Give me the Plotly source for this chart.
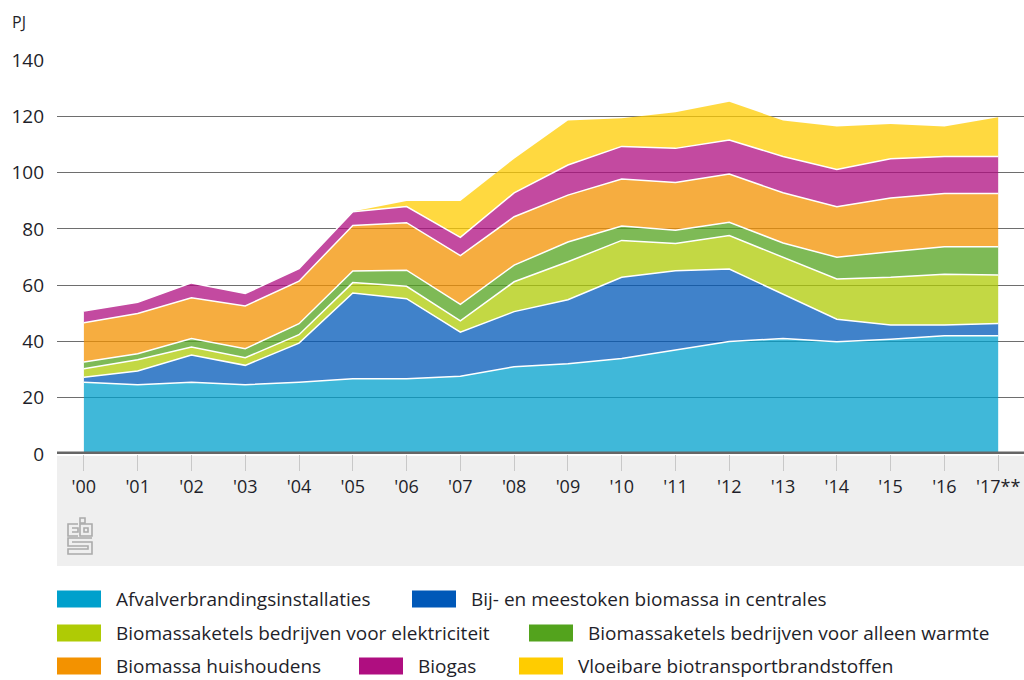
import plotly.graph_objects as go

# ---------------- data ----------------
years = ["'00", "'01", "'02", "'03", "'04", "'05", "'06", "'07", "'08", "'09",
         "'10", "'11", "'12", "'13", "'14", "'15", "'16", "'17**"]

afval = [25.5, 24.6, 25.5, 24.6, 25.5, 26.7, 26.7, 27.6, 31.0, 32.1,
         33.9, 37.0, 40.0, 41.0, 39.9, 40.8, 42.0, 42.0]
bijstook = [1.8, 4.9, 9.7, 6.9, 13.9, 30.5, 28.5, 15.7, 19.6, 22.7,
            28.9, 28.1, 25.7, 15.8, 8.0, 5.0, 3.8, 4.4]
ketel_elek = [3.0, 4.0, 2.8, 2.7, 3.0, 3.7, 4.4, 4.0, 10.6, 13.5,
              13.1, 9.7, 11.9, 13.1, 14.3, 17.0, 18.1, 17.2]
ketel_warmte = [2.4, 2.1, 3.0, 3.2, 3.9, 4.1, 5.7, 5.9, 5.9, 7.0,
                5.1, 4.7, 4.7, 5.1, 7.7, 9.1, 9.7, 10.0]
huishoudens = [13.9, 14.3, 14.5, 15.2, 15.1, 16.2, 16.9, 17.3, 17.2, 16.7,
               16.7, 17.0, 17.2, 17.8, 18.0, 19.1, 19.0, 19.0]
biogas = [4.2, 4.0, 5.3, 4.4, 4.5, 4.9, 5.7, 6.5, 8.5, 10.7,
          11.6, 12.1, 12.1, 12.9, 13.2, 13.9, 13.1, 13.1]
vloeibaar = [0.0, 0.0, 0.0, 0.0, 0.0, 0.1, 2.0, 12.9, 12.1, 15.8,
             10.0, 12.8, 13.6, 12.8, 15.3, 12.4, 10.7, 14.0]

series_names = [
    "Afvalverbrandingsinstallaties",
    "Bij- en meestoken biomassa in centrales",
    "Biomassaketels bedrijven voor elektriciteit",
    "Biomassaketels bedrijven voor alleen warmte",
    "Biomassa huishoudens",
    "Biogas",
    "Vloeibare biotransportbrandstoffen",
]
series_values = [afval, bijstook, ketel_elek, ketel_warmte, huishoudens, biogas, vloeibaar]
series_colors = ["#00A0CC", "#0058B8", "#AFCB05", "#53A31D", "#F39200", "#AF0E80", "#FFCC00"]

ytick_vals = [0, 20, 40, 60, 80, 100, 120, 140]

# ---------------- layout geometry ----------------
W, H = 1024, 680
L, R, T, B = 57, 0, 60, 226
PW, PH = W - L - R, H - T - B
FONT = "Open Sans, Roboto, sans-serif"
TXT = "#1f1f2a"


def rgba(hexc, a):
    hexc = hexc.lstrip("#")
    r, g, b = int(hexc[0:2], 16), int(hexc[2:4], 16), int(hexc[4:6], 16)
    return f"rgba({r},{g},{b},{a})"


def px(x):
    return (x - L) / PW


def py(y):
    return (H - B - y) / PH


fig = go.Figure()
xs = list(range(len(years)))
for i, (name, vals, col) in enumerate(zip(series_names, series_values, series_colors)):
    top = i == len(series_names) - 1
    fig.add_trace(go.Scatter(
        x=xs, y=vals, name=name, mode="lines", stackgroup="one",
        line=dict(color="white", width=0 if top else 1.5, shape="linear"),
        fillcolor=rgba(col, 0.75), showlegend=False,
        hovertemplate="%{y}<extra>" + name + "</extra>",
    ))

shapes = []
annotations = []

# grey band beneath the chart
shapes.append(dict(type="rect", xref="paper", yref="paper",
                   x0=0, x1=1, y0=py(566), y1=py(456),
                   fillcolor="#EFEFEF", line=dict(width=0), layer="below"))
# thick baseline
shapes.append(dict(type="line", xref="paper", yref="y", x0=0, x1=1, y0=0, y1=0,
                   line=dict(color="#666666", width=5), layer="above"))

# cbs logo (simplified)
logo_col = "#ABABAB"
def lpath(points, closed=False):
    d = "M " + " L ".join(f"{px(a):.5f},{py(b):.5f}" for a, b in points)
    if closed:
        d += " Z"
    return dict(type="path", xref="paper", yref="paper", path=d,
                line=dict(color=logo_col, width=1.6), layer="above")

shapes.append(lpath([(80, 518), (85, 518), (85, 523), (80, 523)], closed=True))
shapes.append(lpath([(78, 524), (68, 524), (68, 536), (78, 536)]))
shapes.append(lpath([(72, 528), (78, 528), (78, 532), (72, 532)]))
shapes.append(lpath([(80, 524), (92, 524), (92, 536), (80, 536)], closed=True))
shapes.append(lpath([(84, 528), (88, 528), (88, 532), (84, 532)], closed=True))
shapes.append(lpath([(92, 538), (68, 538), (68, 546), (88, 546), (88, 549), (68, 549), (68, 554), (92, 554), (92, 542), (72, 542)]))

# PJ label
annotations.append(dict(text="PJ", xref="paper", yref="paper", x=px(10), y=py(22),
                        xanchor="left", yanchor="middle", showarrow=False,
                        font=dict(family=FONT, size=16, color=TXT)))

# manual legend
legend_pos = [  # (swatch x, row centre y)
    (57, 599), (412, 599),
    (57, 633), (529, 633),
    (57, 666), (359, 666), (519, 666),
]
sw_w, sw_h = 44, 17
for name, col, (sx, sy) in zip(series_names, series_colors, legend_pos):
    shapes.append(dict(type="rect", xref="paper", yref="paper",
                       x0=px(sx), x1=px(sx + sw_w), y0=py(sy + sw_h / 2), y1=py(sy - sw_h / 2),
                       fillcolor=col, line=dict(width=0)))
    annotations.append(dict(text=name, xref="paper", yref="paper",
                            x=px(sx + sw_w + 13), y=py(sy), xanchor="left", yanchor="middle",
                            showarrow=False, font=dict(family=FONT, size=19, color=TXT)))

fig.update_layout(
    width=W, height=H,
    margin=dict(l=L, r=R, t=T, b=B, pad=0),
    paper_bgcolor="white", plot_bgcolor="white",
    font=dict(family=FONT, size=18, color=TXT),
    xaxis=dict(
        range=[-0.5, 17.48], tickmode="array", tickvals=xs, ticktext=years,
        showgrid=False, zeroline=False, showline=False,
        ticks="outside", ticklen=16, tickcolor="#C8C8C8", tickwidth=1.2,
        tickfont=dict(family=FONT, size=18, color=TXT),
        fixedrange=True,
    ),
    yaxis=dict(
        range=[0, 140], tickmode="array", tickvals=ytick_vals,
        showgrid=True, gridcolor="#6E6E6E", gridwidth=1,
        zeroline=False, showline=False, ticks="",
        ticklabelstandoff=12,
        tickfont=dict(family=FONT, size=19, color=TXT),
        fixedrange=True,
    ),
    shapes=shapes, annotations=annotations,
    showlegend=False,
)

fig.write_html(
    "out.html",
    config={"displayModeBar": False},
    post_script="document.body.style.margin='0';document.body.style.padding='0';",
)
